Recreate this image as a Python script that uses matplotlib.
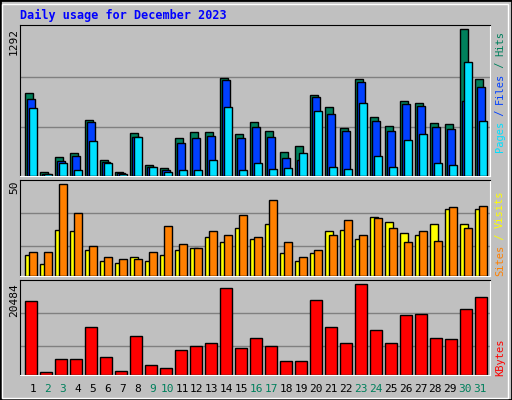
import matplotlib
matplotlib.use("Agg")
import matplotlib.pyplot as plt
from matplotlib.patches import Rectangle

days = list(range(1, 32))
weekend = [2, 3, 9, 10, 16, 17, 23, 24, 30, 31]
hits = [728, 32, 167, 200, 493, 138, 32, 376, 94, 68, 332, 385, 385, 860, 367, 473, 393, 208, 261, 711, 605, 420, 851, 517, 437, 661, 640, 464, 455, 1292, 851]
files = [678, 18, 129, 173, 473, 123, 26, 341, 79, 50, 288, 332, 349, 843, 332, 429, 341, 156, 141, 693, 543, 393, 828, 482, 393, 631, 614, 429, 411, 661, 781]
pages = [596, 15, 112, 50, 305, 112, 21, 341, 76, 32, 50, 50, 138, 605, 50, 112, 59, 68, 200, 570, 76, 59, 640, 173, 76, 314, 367, 112, 94, 1001, 482]
sites = [11.4, 6.5, 25, 24.5, 14.1, 8.2, 7.1, 10.3, 8.2, 11.4, 14.1, 15.2, 21.2, 18.5, 26.1, 20.1, 28.3, 12.5, 8.2, 12.5, 24.5, 25, 20.1, 32.1, 29.4, 23.4, 22.3, 28.3, 36.4, 28.3, 36.4]
visits = [13, 13, 50, 34.2, 16.3, 10.3, 9.2, 9.2, 13, 27.2, 17.4, 15.2, 24.5, 22.3, 33.2, 21.2, 41.3, 18.5, 10.3, 14.1, 22.3, 30.4, 22.3, 31.5, 26.1, 18.5, 24.5, 19, 37.5, 26.1, 38]
kbytes = [16657, 675, 3601, 3601, 10804, 4052, 900, 8779, 2251, 1576, 5627, 6528, 7203, 19583, 6077, 8328, 6528, 3151, 3151, 16882, 10804, 7203, 20484, 10129, 7203, 13505, 13730, 8328, 8103, 14856, 17557]

W, H = 512, 400
BG = "#C0C0C0"
fig = plt.figure(figsize=(W/100, H/100), dpi=100, facecolor=BG)
fig.patches.append(Rectangle((0, 0), 1, 1, transform=fig.transFigure, fill=False, edgecolor="black", lw=2))
fig.patches.append(Rectangle((2/W, 2/H), 1-6/W, 1-6/H, transform=fig.transFigure, fill=False, edgecolor="white", lw=1))
mono = "DejaVu Sans Mono"
PITCH = 15.0

def panel(top, bottom, ymax, grids):
    ax = fig.add_axes([20/W, 1-bottom/H, 470/W, (bottom-top)/H])
    ax.set_facecolor(BG)
    ax.set_xlim(0, 470/PITCH)
    ax.set_ylim(0, ymax)
    ax.set_xticks([]); ax.set_yticks([])
    for s in ["top", "left"]:
        ax.spines[s].set_color("black")
    for s in ["bottom", "right"]:
        ax.spines[s].set_color("white")
    for g in grids:
        ax.axhline(g, color="#808080", lw=1, zorder=0)
    return ax

u = 1/PITCH
x0 = [d-1 for d in days]

ax1 = panel(25, 176, 1330, [429, 875])
ax1.bar([x+5.3*u for x in x0], hits, width=7.3*u, align="edge", color="#00805C", edgecolor="black", lw=1, zorder=2)
ax1.bar([x+7.3*u for x in x0], files, width=7.3*u, align="edge", color="#0040FF", edgecolor="black", lw=1, zorder=3)
ax1.bar([x+9.3*u for x in x0], pages, width=7.3*u, align="edge", color="#00E0FF", edgecolor="black", lw=1, zorder=4)

ax2 = panel(180, 276.3, 52.3, [16.3, 34.2])
ax2.bar([x+5.3*u for x in x0], sites, width=7.3*u, align="edge", color="#FFFF00", edgecolor="black", lw=1, zorder=2)
ax2.bar([x+9.3*u for x in x0], visits, width=7.3*u, align="edge", color="#FF8000", edgecolor="black", lw=1, zorder=3)

ax3 = panel(280.3, 375.3, 21380, [6528, 13956])
ax3.bar([x+5.3*u for x in x0], kbytes, width=11.3*u, align="edge", color="#FF0000", edgecolor="black", lw=1, zorder=2)

def t(x, y, s, **kw):
    fig.text(x/W, 1-y/H, s, family=mono, **kw)

t(20, 15, "Daily usage for December 2023", color="#0000FF", fontsize=8.5, fontweight="bold", va="center")
t(14, 28, "1292", rotation=90, fontsize=8, va="top", ha="center")
t(14, 181, "50", rotation=90, fontsize=8, va="top", ha="center")
t(14, 283, "20484", rotation=90, fontsize=8, va="top", ha="center")

def vstack(x, ybot, parts):
    y = ybot
    for s, c in parts:
        t(x, y, s, rotation=90, fontsize=7.5, color=c, ha="center", va="bottom")
        y -= len(s) * 6.0

vstack(500, 152, [("Pages", "#00E0FF"), (" / ", "#0040FF"), ("Files", "#0040FF"), (" / ", "#00805C"), ("Hits", "#00805C")])
vstack(500, 276, [("Sites", "#FF8000"), (" / ", "#FFFF00"), ("Visits", "#FFFF00")])
vstack(500, 376, [("KBytes", "#FF0000")])

for d in days:
    xc = 33 + (d-1)*14.9
    t(xc, 389, str(d), fontsize=8, ha="center", va="center",
      color="#00805C" if d in weekend else "black")

fig.savefig("out.png", dpi=100, facecolor=BG)
